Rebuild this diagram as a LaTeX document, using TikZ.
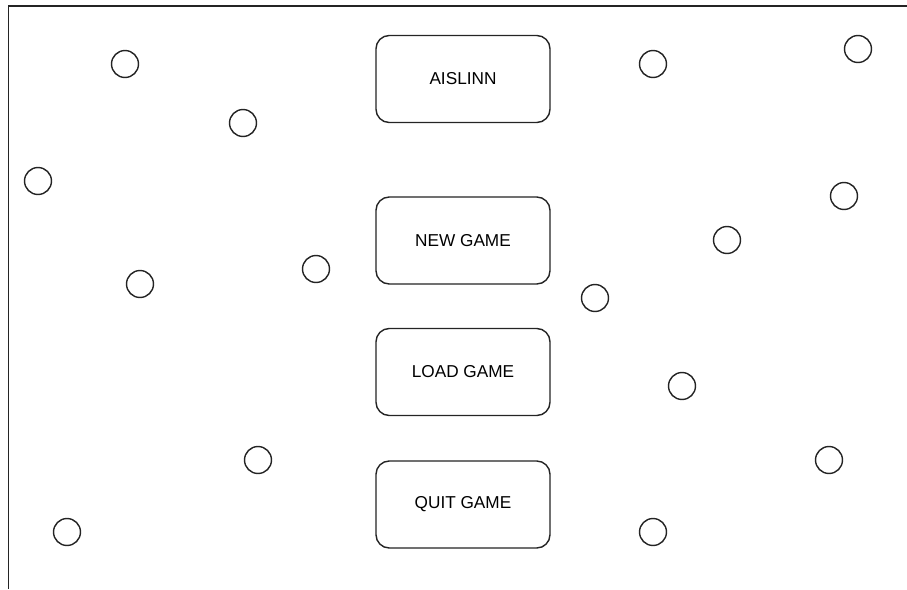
\documentclass[tikz,border=0pt]{standalone}
\usepackage{fontspec}
\setmainfont{Liberation Sans}
\usetikzlibrary{positioning}
\definecolor{edgegray}{RGB}{36,36,36}

\begin{document}
\begin{tikzpicture}[x=0.02cm, y=-0.02cm, every node/.style={font=\fontsize{9.8}{12}\selectfont}]
  \tikzset{menubox/.style={draw=edgegray,line width=0.8pt,rounded corners=7.5pt,minimum width=3.48cm,minimum height=1.74cm,inner sep=0pt},
           dot/.style={draw=edgegray,line width=0.8pt,circle,minimum size=0.54cm,inner sep=0pt}}
  \useasboundingbox (0,0) rectangle (907,589);
  % frame edges
  \draw[line width=1.1pt,edgegray] (907,6) -- (8.5,6) -- (8.5,589);
  % menu
  \node[menubox] (title) at (463,79) {AISLINN};
  \node[menubox] (newgame) at (463,240.5) {NEW GAME};
  \node[menubox] (loadgame) at (463,372) {LOAD GAME};
  \node[menubox] (quitgame) at (463,504.5) {QUIT GAME};
  % scattered dots
  \foreach \i/\x/\y in {1/125/64, 2/243/123, 3/38/181, 4/140/284, 5/316/269, 6/258/460, 7/67/532,
                        8/653/64, 9/858/49, 10/844/196, 11/727/240, 12/595/298, 13/682/386, 14/829/460, 15/653/532}
    \node[dot] (dot\i) at (\x,\y) {};
\end{tikzpicture}
\end{document}
